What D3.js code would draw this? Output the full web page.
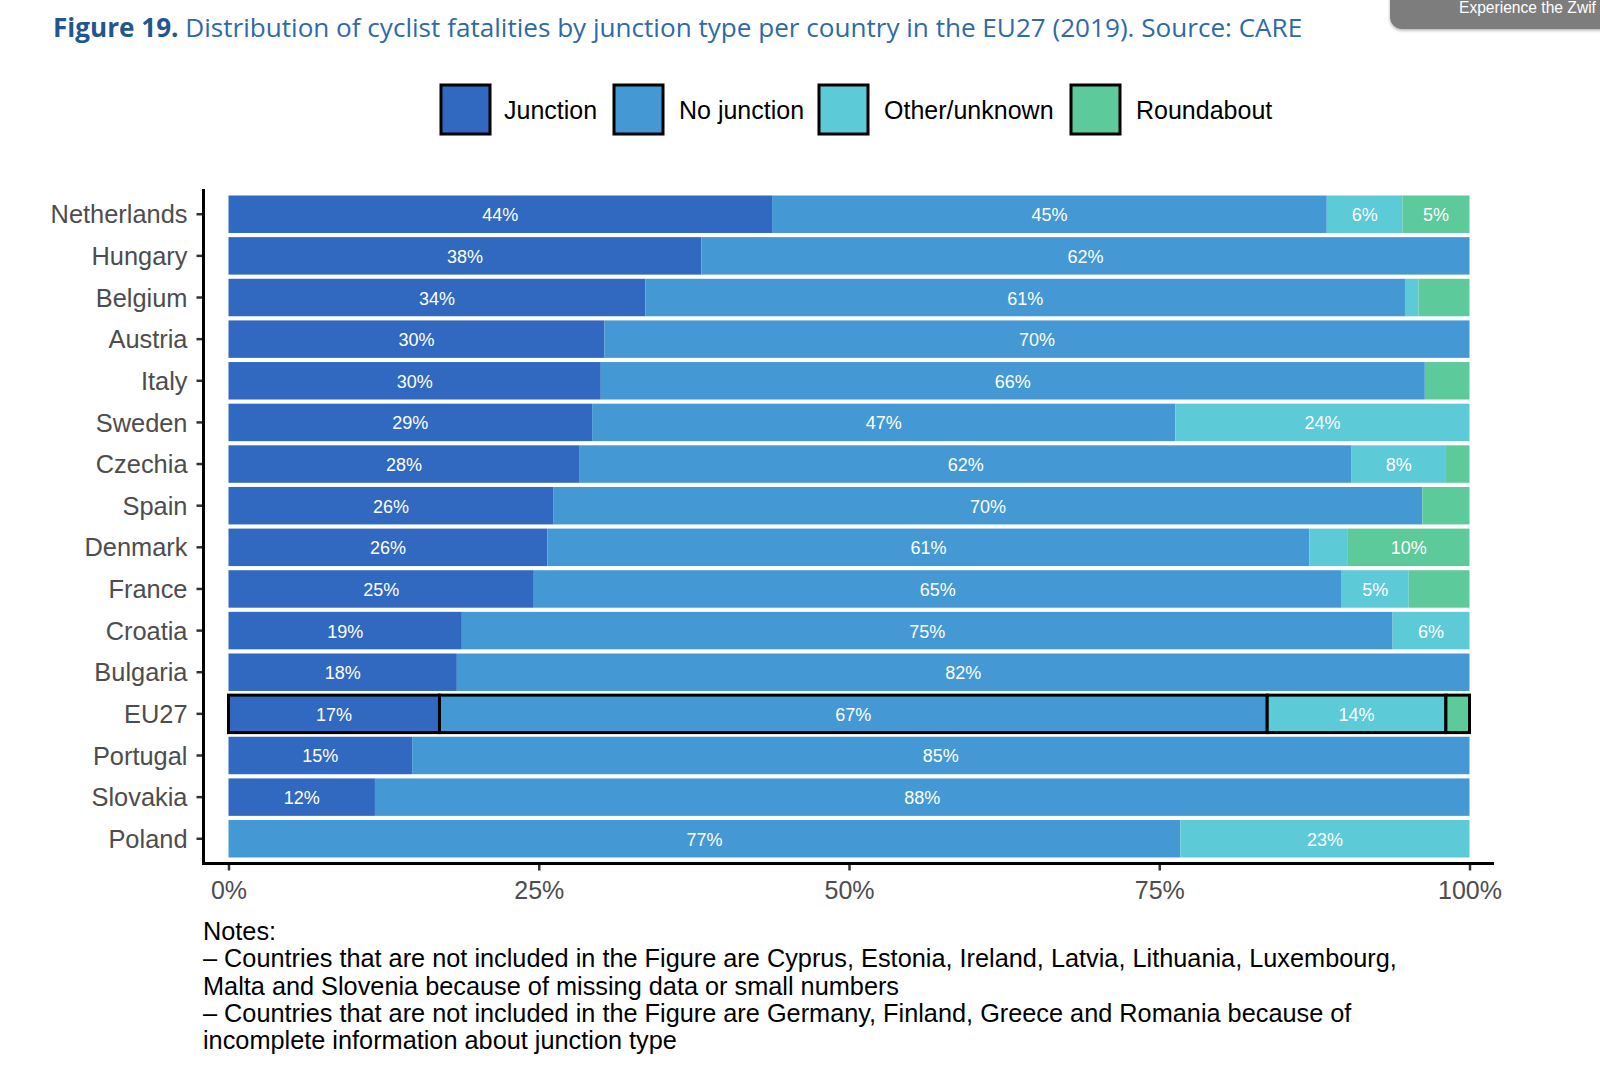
<!DOCTYPE html>
<html>
<head>
<meta charset="utf-8">
<script src="https://cdn.jsdelivr.net/npm/d3@7"></script>
<style>
  html, body { margin: 0; padding: 0; background: #fff; }
  svg { display: block; }
</style>
</head>
<body>
<svg id="chart" width="1600" height="1070"></svg>
<script>
// ---- data ----
const countries = ["Netherlands","Hungary","Belgium","Austria","Italy","Sweden","Czechia","Spain","Denmark","France","Croatia","Bulgaria","EU27","Portugal","Slovakia","Poland"];
const seriesNames = ["Junction","No junction","Other/unknown","Roundabout"];
const junction     = [43.8, 38.1, 33.6, 30.3, 30.0, 29.3, 28.3, 26.2, 25.7, 24.6, 18.8, 18.4, 17.0, 14.8, 11.8, 0];
const noJunction   = [44.7, 61.9, 61.2, 69.7, 66.4, 47.0, 62.2, 70.0, 61.4, 65.1, 75.0, 81.6, 66.7, 85.2, 88.2, 76.7];
const otherUnknown = [6.1, 0, 1.1, 0, 0, 23.7, 7.6, 0, 3.1, 5.4, 6.2, 0, 14.4, 0, 0, 23.3];
const roundabout   = [5.4, 0, 4.1, 0, 3.6, 0, 1.9, 3.8, 9.8, 4.9, 0, 0, 1.9, 0, 0, 0];
const xTicks = [0, 25, 50, 75, 100];
const xTickLabels = ["0%","25%","50%","75%","100%"];
const colors = ["#3169c1", "#4499d5", "#5ccad7", "#5dca9b"];
const notesLines = [
  "Notes:",
  "\u2013 Countries that are not included in the Figure are Cyprus, Estonia, Ireland, Latvia, Lithuania, Luxembourg,",
  "Malta and Slovenia because of missing data or small numbers",
  "\u2013 Countries that are not included in the Figure are Germany, Finland, Greece and Romania because of",
  "incomplete information about junction type"
];

const svg = d3.select("#chart");
const FONT = "'Liberation Sans', Arial, Helvetica, sans-serif";

svg.append("rect").attr("width",1600).attr("height",1070).attr("fill","#fff");

// title
const title = svg.append("text").attr("x",53).attr("y",37)
  .attr("font-family","'Open Sans', sans-serif").attr("font-size",26.1);
title.append("tspan").attr("font-weight","bold").attr("fill","#23568f").text("Figure 19.");
title.append("tspan").attr("fill","#2f6aa6").text(" Distribution of cyclist fatalities by junction type per country in the EU27 (2019). Source: CARE");

// overlay badge at top right
const defs = svg.append("defs");
const f = defs.append("filter").attr("id","sh").attr("x","-10%").attr("y","-50%").attr("width","120%").attr("height","200%");
f.append("feDropShadow").attr("dx",0).attr("dy",1.5).attr("stdDeviation",1.5).attr("flood-color","#000").attr("flood-opacity",0.3);
svg.append("rect").attr("x",1390).attr("y",-20).attr("width",240).attr("height",49).attr("rx",12)
  .attr("fill","#7d7d7d").attr("filter","url(#sh)");
svg.append("text").attr("x",1459).attr("y",13).attr("font-family",FONT).attr("font-size",15.6)
  .attr("fill","#fff").text("Experience the Zwif");

// legend
const legendItems = [
  {x:441, tx:504}, {x:614, tx:679}, {x:819, tx:884}, {x:1071, tx:1136}
];
seriesNames.forEach((name,i) => {
  svg.append("rect").attr("x",legendItems[i].x).attr("y",85).attr("width",49).attr("height",49)
    .attr("fill",colors[i]).attr("stroke","#000").attr("stroke-width",3);
  svg.append("text").attr("x",legendItems[i].tx).attr("y",119).attr("font-family",FONT)
    .attr("font-size",25).attr("fill","#000").text(name);
});

// scales
const x = d3.scaleLinear().domain([0,100]).range([228.5,1469.5]);
const y = d3.scaleBand().domain(countries).range([195.5 - 0.05*41.6, 857.5 + 0.05*41.6]).paddingInner(0.1).paddingOuter(0.05);

// stacked data
const table = countries.map((c,i) => ({country:c, "Junction":junction[i], "No junction":noJunction[i], "Other/unknown":otherUnknown[i], "Roundabout":roundabout[i]}));
const stacked = d3.stack().keys(seriesNames)(table);

const g = svg.append("g");
stacked.forEach((layer,li) => {
  layer.forEach(d => {
    const w = x(d[1]) - x(d[0]);
    if (w <= 0) return;
    const isEU = d.data.country === "EU27";
    g.append("rect")
      .attr("x", x(d[0])).attr("y", y(d.data.country))
      .attr("width", w).attr("height", y.bandwidth())
      .attr("fill", colors[li])
      .attr("stroke", isEU ? "#000" : "none").attr("stroke-width", isEU ? 3 : 0);
  });
});
stacked.forEach((layer,li) => {
  layer.forEach(d => {
    const v = d[1]-d[0];
    if (v < 5) return;
    g.append("text")
      .attr("x", (x(d[0])+x(d[1]))/2).attr("y", y(d.data.country)+y.bandwidth()/2+7)
      .attr("text-anchor","middle").attr("font-family",FONT).attr("font-size",18)
      .attr("fill","#fff").text(Math.round(v)+"%");
  });
});

// axes
const yAxis = d3.axisLeft(y).tickSize(7).tickPadding(9);
const yg = svg.append("g").attr("transform","translate(203.5,1)").call(yAxis);
yg.select(".domain").remove();
yg.selectAll(".tick line").attr("stroke","#333").attr("stroke-width",2.5).attr("transform","translate(0,-1)");
yg.selectAll(".tick text").attr("font-family",FONT).attr("font-size",25.4).attr("fill","#4d4d4d");

const xAxis = d3.axisBottom(x).tickValues(xTicks).tickFormat((d,i)=>xTickLabels[i]).tickSize(7).tickPadding(11);
const xg = svg.append("g").attr("transform","translate(0,863.5)").call(xAxis);
xg.select(".domain").remove();
xg.selectAll(".tick line").attr("stroke","#333").attr("stroke-width",2.5);
xg.selectAll(".tick text").attr("font-family",FONT).attr("font-size",25).attr("fill","#4d4d4d");

// axis lines
svg.append("line").attr("x1",203.5).attr("x2",203.5).attr("y1",189).attr("y2",865).attr("stroke","#000").attr("stroke-width",3);
svg.append("line").attr("x1",202).attr("x2",1494).attr("y1",863.5).attr("y2",863.5).attr("stroke","#000").attr("stroke-width",3);

// notes
notesLines.forEach((t,i) => {
  svg.append("text").attr("x",203).attr("y",940 + i*27.3).attr("font-family",FONT)
    .attr("font-size",25.3).attr("fill","#000").text(t);
});
</script>
</body>
</html>
